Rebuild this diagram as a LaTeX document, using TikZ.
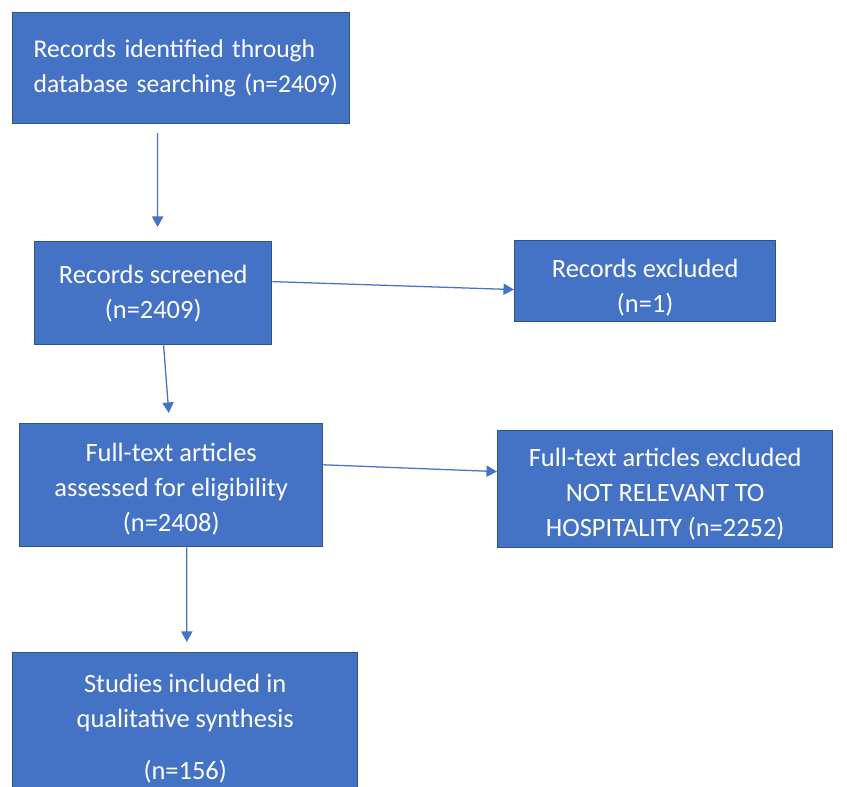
\documentclass[tikz,border=0pt]{standalone}
\usepackage{fontspec}
\setmainfont{Carlito}
\usetikzlibrary{arrows.meta}
\definecolor{boxblue}{HTML}{4472C4}
\definecolor{boxedge}{HTML}{2F528F}
\tikzset{
  flowbox/.style={rectangle, fill=boxblue, draw=boxedge, line width=1pt, text=white, align=center, inner sep=0pt, font=\fontsize{18.8}{24.9}\selectfont},
  link/.style={draw=boxblue, line width=0.9pt, -{Triangle[length=7.5pt,width=8pt]}},
}
\begin{document}
\begin{tikzpicture}
\useasboundingbox (0,0) rectangle (21.175,19.675);
\node[flowbox, anchor=north west, minimum width=8.425cm, minimum height=2.775cm, align=left, text width=7.375cm, font=\fontsize{18.2}{24.9}\selectfont] (ident) at (0.300,19.375) {\mbox{Records identified through}\\\mbox{database searching (n=2409)}};
\node[flowbox, anchor=north west, minimum width=5.925cm, minimum height=2.575cm] (screen) at (0.850,13.650) {Records screened\\(n=2409)};
\node[flowbox, anchor=north west, minimum width=6.525cm, minimum height=2.025cm] (excl) at (12.850,13.675) {\rule{0pt}{0.76cm}Records excluded\\(n=1)};
\node[flowbox, anchor=north west, minimum width=7.575cm, minimum height=3.075cm] (fulltext) at (0.475,9.100) {\rule{0pt}{0.66cm}Full-text articles\\assessed for eligibility\\(n=2408)};
\node[flowbox, anchor=north west, minimum width=8.375cm, minimum height=2.925cm] (ftexcl) at (12.425,8.925) {\rule{0pt}{0.71cm}Full-text articles excluded\\NOT RELEVANT TO\\HOSPITALITY (n=2252)};
\node[flowbox, anchor=north west, minimum width=8.625cm, minimum height=3.800cm] (incl) at (0.300,3.375) {Studies included in\\qualitative synthesis\\[0.42cm](n=156)};
\draw[link] ([xshift=-0.59cm,yshift=-0.22cm]ident.south) -- ([xshift=0.11cm,yshift=0.35cm]screen.north);
\draw[link] ([xshift=0.26cm]screen.south) -- ([xshift=-0.06cm,yshift=0.25cm]fulltext.north);
\draw[link] ([yshift=0.29cm]screen.east) -- ([yshift=-0.21cm]excl.west);
\draw[link] ([yshift=0.51cm]fulltext.east) -- ([yshift=0.44cm]ftexcl.west);
\draw[link] ([xshift=0.39cm]fulltext.south) -- ([xshift=0.04cm,yshift=0.25cm]incl.north);
\end{tikzpicture}
\end{document}
